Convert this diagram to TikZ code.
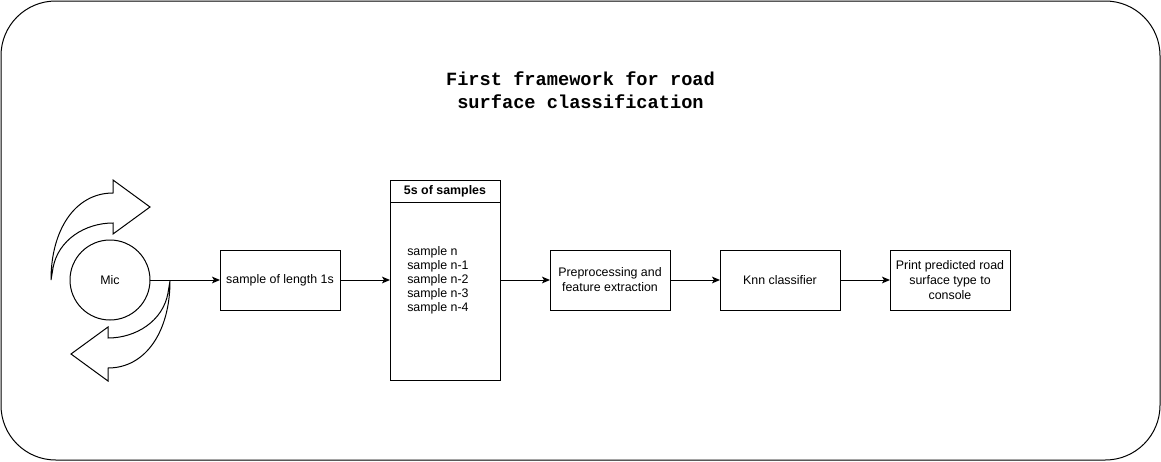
\documentclass[tikz,border=0pt]{standalone}
\usepackage{fontspec}
\setmainfont{Liberation Sans}
\newfontfamily\titlemono{Liberation Mono}
\usetikzlibrary{arrows.meta,positioning}
\tikzset{
  box/.style={draw=black, line width=0.75pt, align=center, inner sep=2pt, outer sep=0pt, minimum width=90pt, minimum height=45pt, font=\fontsize{9.3}{11.25}\selectfont},
  bufbox/.style={draw=black, line width=0.75pt, outer sep=0pt, minimum width=82.5pt, minimum height=150pt},
  headbox/.style={draw=black, line width=0.75pt, outer sep=0pt, minimum width=82.5pt, minimum height=16.5pt, inner sep=0pt, font=\fontsize{9.3}{11}\selectfont\bfseries},
  listtext/.style={align=left, inner sep=0pt, font=\fontsize{9.3}{10.5}\selectfont},
  micnode/.style={draw=black, line width=0.75pt, circle, outer sep=0pt, minimum size=60pt, inner sep=0pt, font=\fontsize{9.3}{11}\selectfont},
  curvearrow/.style={draw=black, line width=0.75pt, line join=miter},
  frame/.style={draw=black, line width=0.75pt, rounded corners=41pt},
  arrow/.style={-{Stealth[length=6pt,width=5pt,inset=1.5pt]}, line width=0.75pt}
}

\begin{document}
\begin{tikzpicture}[x=0.75pt, y=-0.75pt]
\useasboundingbox (0,0) rectangle (1161,461);
\draw[frame] (1,1) rectangle (1160,460);
\node[font=\titlemono\bfseries\fontsize{14}{17.25}\selectfont, align=center] (title) at (580.5,90) {First framework for road\\surface classification};

% microphone with the two turning arrows
\node[micnode] (mic) at (110,280) {Mic};
\draw[curvearrow] (51,280) .. controls (51,230) and (75,193) .. (113,193) -- (113,180) -- (150,207) -- (113,234) -- (113,223) .. controls (85,223) and (58,240) .. (53,268) -- cycle;
\begin{scope}[rotate around={180:(110.5,280.5)}]
\draw[curvearrow] (51,280) .. controls (51,230) and (75,193) .. (113,193) -- (113,180) -- (150,207) -- (113,234) -- (113,223) .. controls (85,223) and (58,240) .. (53,268) -- cycle;
\end{scope}

\node[box, right=52.5pt of mic] (len) {sample of length 1s};
\node[bufbox, right=37.5pt of len] (buf) {};
\node[headbox, anchor=north] (bufhead) at (buf.north) {5s of samples};
\node[listtext, anchor=west] (buflist) at ([xshift=12.75pt]buf.west) {sample n\\sample n-1\\sample n-2\\sample n-3\\sample n-4};
\node[box, right=37.5pt of buf] (prep) {Preprocessing and\\feature extraction};
\node[box, right=37.5pt of prep] (knn) {Knn classifier};
\node[box, right=37.5pt of knn] (out) {Print predicted road\\surface type to\\console};

\draw[arrow] (mic) -- (len);
\draw[arrow] (len) -- (buf);
\draw[arrow] (buf) -- (prep);
\draw[arrow] (prep) -- (knn);
\draw[arrow] (knn) -- (out);
\end{tikzpicture}
\end{document}
